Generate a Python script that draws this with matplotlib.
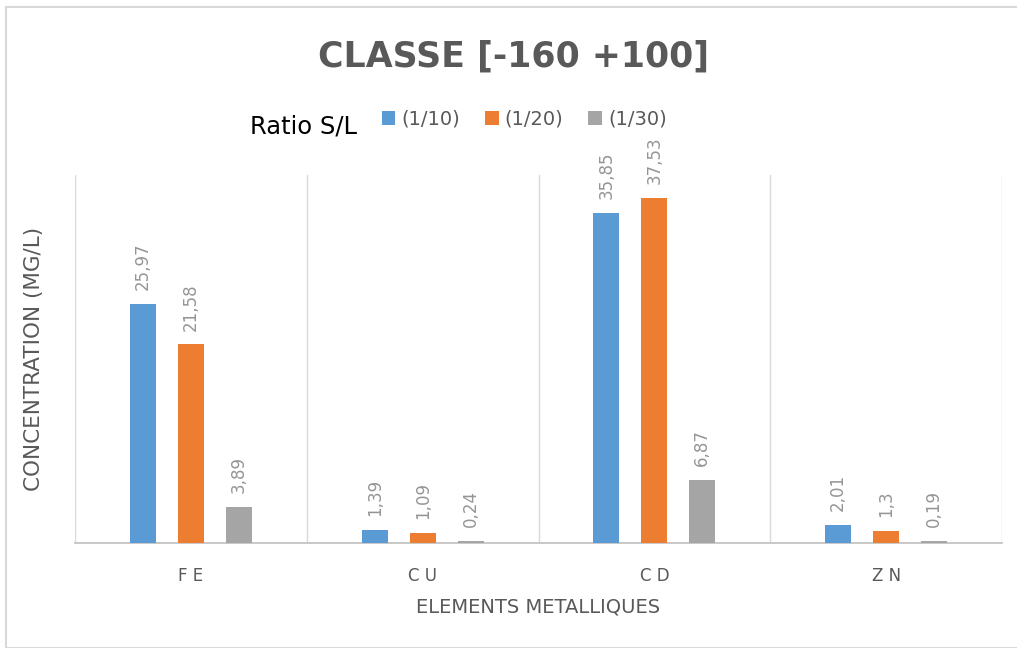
import numpy as np
import matplotlib.pyplot as plt
from matplotlib.patches import Rectangle

# données
elements = ['F E', 'C U', 'C D', 'Z N']
series = ['(1/10)', '(1/20)', '(1/30)']
vals_10 = [25.97, 1.39, 35.85, 2.01]
vals_20 = [21.58, 1.09, 37.53, 1.3]
vals_30 = [3.89, 0.24, 6.87, 0.19]
couleurs = ['#5b9bd5', '#ed7d31', '#a5a5a5']

plt.rcParams['font.family'] = ['DejaVu Sans']

fig = plt.figure(figsize=(10.17, 6.48), dpi=100)
ax = fig.add_axes([75 / 1017, 1 - 543 / 648, 927 / 1017, 368 / 648])

# cadre du graphique
fig.patches.append(Rectangle((6 / 1017, 0), 1.2, 1 - 7 / 648, transform=fig.transFigure,
                             fill=False, edgecolor='#d9d9d9', linewidth=1.5))

x = np.arange(len(elements))
largeur = 0.112
pas = 0.207
for i, (vals, nom) in enumerate(zip([vals_10, vals_20, vals_30], series)):
    pos = x + (i - 1) * pas
    ax.bar(pos, vals, width=largeur, color=couleurs[i], label=nom, zorder=3)
    for xp, v in zip(pos, vals):
        txt = f'{v:g}'.replace('.', ',')
        ax.annotate(txt, (xp, v), xytext=(0, 10), textcoords='offset points',
                    rotation=90, ha='center', va='bottom', fontsize=12,
                    color='#959595')

ax.set_xlim(-0.5, len(elements) - 0.5)
ax.set_ylim(0, 40)
ax.set_yticks([])
ax.set_xticks(x)
ax.set_xticklabels(elements, fontsize=12, color='#595959')
ax.tick_params(axis='x', length=0, pad=17)
for b in np.arange(-0.5, len(elements), 1):
    ax.axvline(b, color='#d9d9d9', linewidth=1, zorder=1)
for s in ['top', 'right', 'left']:
    ax.spines[s].set_visible(False)
ax.spines['bottom'].set_color('#bfbfbf')
ax.spines['bottom'].set_linewidth(1.2)

ax.set_xlabel('ELEMENTS METALLIQUES', fontsize=14, color='#595959', labelpad=9)
ax.set_ylabel('CONCENTRATION (MG/L)', fontsize=15.5, color='#595959', labelpad=22)

fig.text(0.505, 1 - 57 / 648, 'CLASSE [-160 +100]',
         ha='center', va='center', fontsize=25, fontweight='bold', color='#595959')

fig.text(250 / 1017, 1 - 127 / 648, 'Ratio S/L', ha='left', va='center', fontsize=17.5, color='black')
leg = fig.legend(loc='center left', bbox_to_anchor=(364 / 1017, 1 - 119 / 648), ncol=3,
                 frameon=False, fontsize=14, handlelength=0.7, handleheight=0.7,
                 handletextpad=0.3, columnspacing=1.3, labelcolor='#595959')

fig.savefig('out.png', dpi=100)
